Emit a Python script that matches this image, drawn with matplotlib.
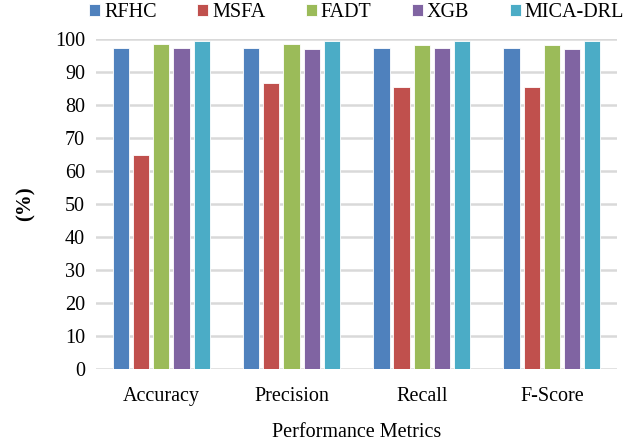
import numpy as np
import matplotlib.pyplot as plt

plt.rcParams['font.family'] = ['Liberation Serif', 'DejaVu Serif']

# data
metrics = ['Accuracy', 'Precision', 'Recall', 'F-Score']
models = ['RFHC', 'MSFA', 'FADT', 'XGB', 'MICA-DRL']
rfhc = [97.2, 97.2, 97.2, 97.2]
msfa = [64.8, 86.8, 85.5, 85.5]
fadt = [98.4, 98.4, 98.1, 98.1]
xgb = [97.2, 96.9, 97.2, 96.9]
mica_drl = [99.5, 99.5, 99.5, 99.5]
yticks = [0, 10, 20, 30, 40, 50, 60, 70, 80, 90, 100]

colors = ['#4F81BD', '#C0504D', '#9BBB59', '#8064A2', '#4BACC6']
series = [rfhc, msfa, fadt, xgb, mica_drl]

fig = plt.figure(figsize=(6.29, 4.44), dpi=100)
ax = fig.add_axes([0.153, 0.169, 0.828, 0.743])

x = np.arange(len(metrics))
pitch = 0.155
width = 0.125
for i, (vals, name, c) in enumerate(zip(series, models, colors)):
    ax.bar(x + (i - 2) * pitch, vals, width, color=c, label=name,
           edgecolor='white', linewidth=0.6, zorder=3)

ax.set_ylim(0, 100)
ax.set_xlim(-0.5, len(metrics) - 0.5)
ax.set_yticks(yticks)
ax.set_xticks(x)
ax.set_xticklabels(metrics)
ax.yaxis.grid(True, color='#D9D9D9', linewidth=1.8, zorder=0)
ax.tick_params(axis='both', length=0, labelsize=14.5, colors='black')
ax.tick_params(axis='x', pad=13)
ax.tick_params(axis='y', pad=8)
for s in ax.spines.values():
    s.set_visible(False)

ax.set_ylabel('(%)', fontsize=15, fontweight='bold', labelpad=14)
ax.set_xlabel('Performance Metrics', fontsize=14.5, labelpad=12)

ax.legend(loc='lower center', bbox_to_anchor=(0.5, 1.02), ncol=5, frameon=False,
          fontsize=14.5, handlelength=0.55, handleheight=0.55, handletextpad=0.2,
          columnspacing=2.0, borderaxespad=0.1)

plt.savefig('out.png', dpi=100)
